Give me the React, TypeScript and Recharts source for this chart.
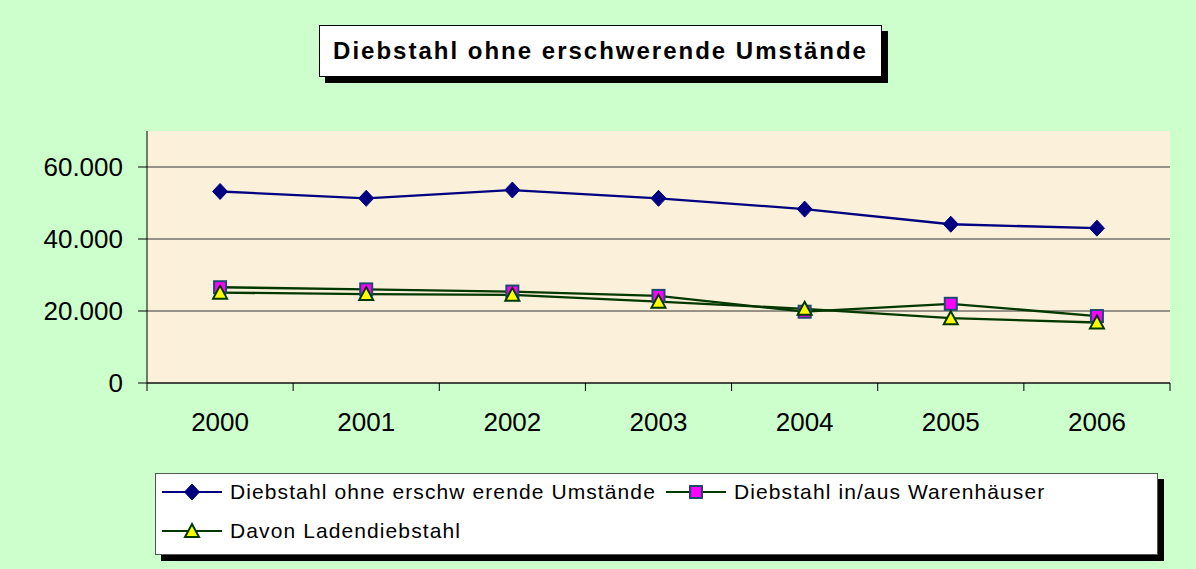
import React from "react";
import { LineChart, Line, XAxis, YAxis, CartesianGrid } from "recharts";

const years = ["2000", "2001", "2002", "2003", "2004", "2005", "2006"];
const ohneErschwerend = [53200, 51300, 53600, 51300, 48300, 44100, 43000];
const warenhaeuser = [26600, 26000, 25400, 24200, 19800, 22000, 18600];
const ladendiebstahl = [25100, 24700, 24500, 22600, 20600, 18000, 16800];
const yTicks = [0, 20000, 40000, 60000];
const seriesNames = [
  "Diebstahl ohne erschw erende Umstände",
  "Diebstahl in/aus Warenhäuser",
  "Davon Ladendiebstahl",
];
const title = "Diebstahl ohne erschwerende Umstände";

const data = years.map((year, i) => ({
  year,
  ohne: ohneErschwerend[i],
  waren: warenhaeuser[i],
  laden: ladendiebstahl[i],
}));

const W = 1196;
const H = 569;
const margin = { top: 131, right: 26, bottom: 146, left: 47 };
const yAxisWidth = 100;
const plotWidth = W - margin.left - margin.right - yAxisWidth;
const band = plotWidth / years.length;

const FONT = '"Liberation Sans", Arial, sans-serif';
const NAVY = "#000080";
const DARK_GREEN = "#003800";

const fmt = (v: number) => (v === 0 ? "0" : v.toLocaleString("de-DE"));

// markers
const diamond = (cx: number, cy: number, key?: any) => (
  <path
    key={key}
    d={`M${cx},${cy - 8} L${cx + 7.5},${cy} L${cx},${cy + 8} L${cx - 7.5},${cy} Z`}
    fill={NAVY}
    stroke={NAVY}
    strokeWidth={1}
  />
);
const square = (cx: number, cy: number, key?: any) => (
  <rect key={key} x={cx - 6} y={cy - 6} width={12} height={12} fill="#FF00FF" stroke="#1D4A70" strokeWidth={2} />
);
const triangle = (cx: number, cy: number, key?: any) => (
  <path
    key={key}
    d={`M${cx},${cy - 7} L${cx + 7},${cy + 6} L${cx - 7},${cy + 6} Z`}
    fill="#FFFF00"
    stroke={DARK_GREEN}
    strokeWidth={2}
  />
);

const XTick = (props: any) => {
  const { x, y, payload, index } = props;
  const last = index === years.length - 1;
  return (
    <g>
      <line x1={x - band / 2} x2={x - band / 2} y1={y - 8} y2={y} stroke="#000" />
      {last && <line x1={x + band / 2} x2={x + band / 2} y1={y - 8} y2={y} stroke="#000" />}
      <text x={x} y={y + 40} textAnchor="middle" fontSize={26} fontFamily={FONT} fill="#000">
        {payload.value}
      </text>
    </g>
  );
};

function LegendItem({ name, marker, color, left, top }: any) {
  return (
    <div style={{ position: "absolute", left, top, display: "flex", alignItems: "center", height: 24 }}>
      <svg width={64} height={20} style={{ display: "block" }}>
        <line x1={2} x2={62} y1={10} y2={10} stroke={color} strokeWidth={2} />
        {marker(32, 10)}
      </svg>
      <span style={{ marginLeft: 6, fontSize: 21, letterSpacing: 1.1, fontFamily: FONT, color: "#000", whiteSpace: "nowrap" }}>
        {name}
      </span>
    </div>
  );
}

export default function App() {
  return (
    <div style={{ position: "absolute", left: 0, top: 0, width: W, height: H, background: "#CCFFCC", fontFamily: FONT }}>
      <LineChart width={W} height={H} data={data} margin={margin}>
        <CartesianGrid
          horizontal
          vertical={false}
          syncWithTicks
          stroke="#333"
          fill="#FBF1DA"
          fillOpacity={1}
        />
        <XAxis
          dataKey="year"
          axisLine={{ stroke: "#000" }}
          tickLine={false}
          tickSize={8}
          tickMargin={0}
          height={40}
          padding={{ left: band / 2, right: band / 2 }}
          tick={<XTick />}
          interval={0}
        />
        <YAxis
          width={yAxisWidth}
          domain={[0, 70000]}
          ticks={yTicks}
          tickFormatter={fmt}
          axisLine={{ stroke: "#000" }}
          tickLine={{ stroke: "#000" }}
          tickSize={9}
          tickMargin={15}
          tick={{ fontSize: 26, fill: "#000", fontFamily: FONT }}
        />
        <Line
          dataKey="ohne"
          stroke={NAVY}
          strokeWidth={2.3}
          isAnimationActive={false}
          dot={(p: any) => diamond(p.cx, p.cy, `d-${p.index}`)}
          activeDot={false}
        />
        <Line
          dataKey="waren"
          stroke={DARK_GREEN}
          strokeWidth={2.3}
          isAnimationActive={false}
          dot={(p: any) => square(p.cx, p.cy, `s-${p.index}`)}
          activeDot={false}
        />
        <Line
          dataKey="laden"
          stroke={DARK_GREEN}
          strokeWidth={2.3}
          isAnimationActive={false}
          dot={(p: any) => triangle(p.cx, p.cy, `t-${p.index}`)}
          activeDot={false}
        />
      </LineChart>

      {/* title box */}
      <div
        style={{
          position: "absolute",
          left: 319,
          top: 25,
          width: 563,
          height: 52,
          boxSizing: "border-box",
          border: "1px solid #000",
          background: "#fff",
          boxShadow: "6px 6px 0 #000",
          display: "flex",
          alignItems: "center",
          justifyContent: "center",
          fontWeight: "bold",
          fontSize: 24,
          letterSpacing: 2,
          color: "#000",
        }}
      >
        {title}
      </div>

      {/* legend box */}
      <div
        style={{
          position: "absolute",
          left: 155,
          top: 473,
          width: 1003,
          height: 82,
          boxSizing: "border-box",
          border: "1px solid #555",
          background: "#fff",
          boxShadow: "6px 6px 0 #000",
        }}
      >
        <LegendItem name={seriesNames[0]} marker={diamond} color={NAVY} left={4} top={6} />
        <LegendItem name={seriesNames[1]} marker={square} color={DARK_GREEN} left={508} top={6} />
        <LegendItem name={seriesNames[2]} marker={triangle} color={DARK_GREEN} left={4} top={45} />
      </div>
    </div>
  );
}
